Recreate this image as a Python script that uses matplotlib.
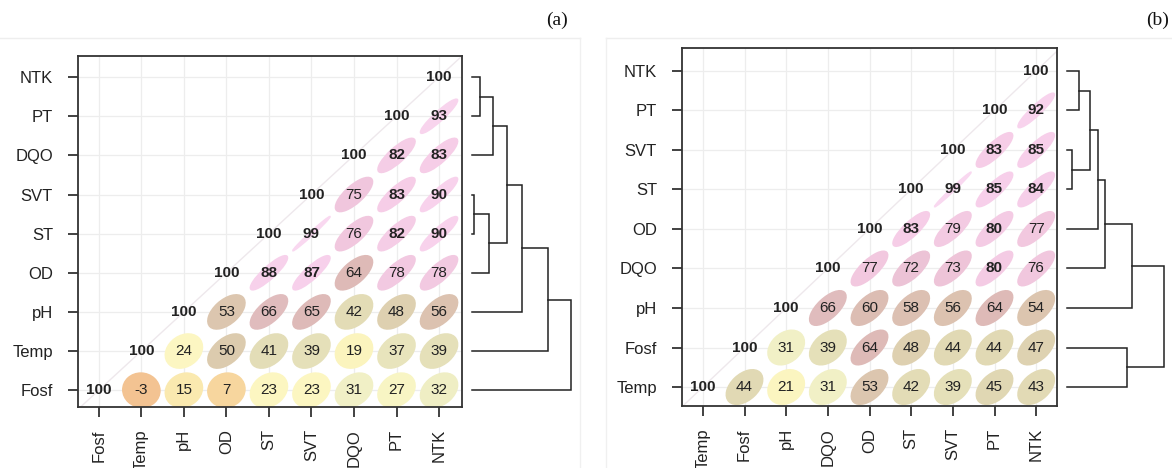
import numpy as np
import matplotlib
matplotlib.use("Agg")
import matplotlib.pyplot as plt
from matplotlib.patches import Ellipse
from matplotlib.colors import LinearSegmentedColormap
from matplotlib.lines import Line2D
from matplotlib import font_manager as fm

# ---------------- data ----------------
# Panel (a): variable order (bottom->top rows, left->right columns)
vars_a = ["Fosf", "Temp", "pH", "OD", "ST", "SVT", "DQO", "PT", "NTK"]
# upper triangle correlations (x100), row i, column j>=i
corr_a = [
    [100, -3, 15, 7, 23, 23, 31, 27, 32],   # Fosf
    [None, 100, 24, 50, 41, 39, 19, 37, 39],  # Temp
    [None, None, 100, 53, 66, 65, 42, 48, 56],  # pH
    [None, None, None, 100, 88, 87, 64, 78, 78],  # OD
    [None, None, None, None, 100, 99, 76, 82, 90],  # ST
    [None, None, None, None, None, 100, 75, 83, 90],  # SVT
    [None, None, None, None, None, None, 100, 82, 83],  # DQO
    [None, None, None, None, None, None, None, 100, 93],  # PT
    [None, None, None, None, None, None, None, None, 100],  # NTK
]
# dendrogram merges: (child1, child2, height); children are leaf names or merge index "#k"
merges_a = [
    ("SVT", "ST", 1.5),
    ("NTK", "PT", 8),
    ("#1", "DQO", 21),
    ("#0", "OD", 17),
    ("#2", "#3", 35),
    ("#4", "pH", 50),
    ("#5", "Temp", 76),
    ("#6", "Fosf", 99),
]

vars_b = ["Temp", "Fosf", "pH", "DQO", "OD", "ST", "SVT", "PT", "NTK"]
corr_b = [
    [100, 44, 21, 31, 53, 42, 39, 45, 43],   # Temp
    [None, 100, 31, 39, 64, 48, 44, 44, 47],  # Fosf
    [None, None, 100, 66, 60, 58, 56, 64, 54],  # pH
    [None, None, None, 100, 77, 72, 73, 80, 76],  # DQO
    [None, None, None, None, 100, 83, 79, 80, 77],  # OD
    [None, None, None, None, None, 100, 99, 85, 84],  # ST
    [None, None, None, None, None, None, 100, 83, 85],  # SVT
    [None, None, None, None, None, None, None, 100, 92],  # PT
    [None, None, None, None, None, None, None, None, 100],  # NTK
]
merges_b = [
    ("SVT", "ST", 5),
    ("NTK", "PT", 12),
    ("#1", "#0", 23),
    ("#2", "OD", 31),
    ("#3", "DQO", 38),
    ("#4", "pH", 65),
    ("Fosf", "Temp", 60),
    ("#5", "#6", 97),
]

# ---------------- style ----------------
anchors = [
    (-0.05, "#F2C090"),
    (0.07, "#F7D69E"),
    (0.15, "#FAEAB0"),
    (0.19, "#FBF4BE"),
    (0.25, "#FCF7C3"),
    (0.31, "#F1F0C6"),
    (0.39, "#E5E0B9"),
    (0.45, "#E0D7B3"),
    (0.50, "#DCCBAE"),
    (0.56, "#DCC2B0"),
    (0.60, "#DCBDB3"),
    (0.65, "#DEBAB8"),
    (0.72, "#ECC3D6"),
    (0.76, "#F1C7DE"),
    (0.85, "#F7CFEA"),
    (1.00, "#F9D8F0"),
]
lo, hi = anchors[0][0], anchors[-1][0]
cmap = LinearSegmentedColormap.from_list(
    "corr", [((v - lo) / (hi - lo), c) for v, c in anchors])
def rcol(r):
    return cmap((r - lo) / (hi - lo))

def find_font(bold):
    want = "LiberationSans-Bold.ttf" if bold else "LiberationSans-Regular.ttf"
    for f in fm.fontManager.ttflist:
        if f.fname.endswith(want):
            return f.fname
    return None

reg_path = find_font(False)
bold_path = find_font(True)
def fp(size, bold=False):
    path = bold_path if bold else reg_path
    if path:
        return fm.FontProperties(fname=path, size=size)
    return fm.FontProperties(family="Liberation Sans", size=size,
                             weight="bold" if bold else "normal")

plt.rcParams["font.family"] = ["Liberation Sans", "DejaVu Sans"]

fig = plt.figure(figsize=(11.72, 4.68), dpi=100)
W, H = 1172.0, 468.0

def px_axes(x0, y0, x1, y1):
    return fig.add_axes([x0 / W, 1 - y1 / H, (x1 - x0) / W, (y1 - y0) / H])

# faint panel frames
for (x0, x1) in [(0, 580), (606, 1172)]:
    fig.add_artist(Line2D([x0 / W, x1 / W], [1 - 38 / H, 1 - 38 / H], color="#EEEEEE", lw=1))
fig.add_artist(Line2D([580 / W, 580 / W], [0, 1 - 38 / H], color="#F0F0F0", lw=1))
fig.add_artist(Line2D([606 / W, 606 / W], [0, 1 - 38 / H], color="#F0F0F0", lw=1))

S = 0.435

def draw_panel(ax, names, corr, xlim, ylim):
    n = len(names)
    ax.set_xlim(*xlim)
    ax.set_ylim(*ylim)
    ax.set_xticks(range(n))
    ax.set_yticks(range(n))
    ax.set_xticklabels(names, rotation=90, color="#222222")
    ax.set_yticklabels(names, color="#222222")
    for lab in ax.get_xticklabels() + ax.get_yticklabels():
        lab.set_fontproperties(fp(12))
    ax.tick_params(length=7, width=1.3, color="#333333")
    ax.tick_params(axis="y", pad=11)
    ax.tick_params(axis="x", pad=9)
    ax.grid(True, color="#EDEDED", lw=0.9, zorder=0)
    ax.set_axisbelow(True)
    for sp in ax.spines.values():
        sp.set_color("#333333")
        sp.set_linewidth(1.3)
    # faint diagonal (r = 1 ellipses)
    ax.plot([-0.5, n - 0.5], [-0.5, n - 0.5], color="#EEE8EC", lw=1.0, zorder=1)
    for i in range(n):
        for j in range(i, n):
            v = corr[i][j]
            if v is None:
                continue
            r = v / 100.0
            if j > i:
                a = 2 * S * np.sqrt(1 + r)
                b = 2 * S * np.sqrt(max(1 - r, 0.0))
                col = rcol(r)
                e = Ellipse((j, i), a, b, angle=45, facecolor=col,
                            edgecolor=col, lw=1.2, zorder=2)
                ax.add_patch(e)
            ax.text(j, i, str(v), ha="center", va="center",
                    fontproperties=fp(11, bold=(v >= 80)),
                    color="#222222", zorder=3)

def draw_dendro(dax, names, merges, ylim):
    dax.set_xlim(0, 100)
    dax.set_ylim(*ylim)
    dax.axis("off")
    pos = {nm: (0.0, float(k)) for k, nm in enumerate(names)}
    for k, (c1, c2, h) in enumerate(merges):
        h1, y1 = pos[c1]
        h2, y2 = pos[c2]
        dax.plot([h1, h, h, h2], [y1, y1, y2, y2], color="#222222", lw=1.1,
                 solid_joinstyle="miter", clip_on=False)
        pos["#%d" % k] = (h, (y1 + y2) / 2)

ylim_a = (-0.43, 8.54)
ax_a = px_axes(78, 56, 462, 407)
draw_panel(ax_a, vars_a, corr_a, (-0.49, 8.54), ylim_a)
dax_a = px_axes(472, 56, 572, 407)
draw_dendro(dax_a, vars_a, merges_a, ylim_a)

ylim_b = (-0.48, 8.58)
ax_b = px_axes(682, 48, 1057, 406)
draw_panel(ax_b, vars_b, corr_b, (-0.5, 8.5), ylim_b)
dax_b = px_axes(1067, 48, 1167, 406)
draw_dendro(dax_b, vars_b, merges_b, ylim_b)

fig.text(557 / W, 1 - 20 / H, "(a)", family=["Liberation Serif", "DejaVu Serif"],
         fontsize=14, ha="center", va="center", color="#111111")
fig.text(1158 / W, 1 - 20 / H, "(b)", family=["Liberation Serif", "DejaVu Serif"],
         fontsize=14, ha="center", va="center", color="#111111")

fig.savefig("out.png", dpi=100, facecolor="white")
